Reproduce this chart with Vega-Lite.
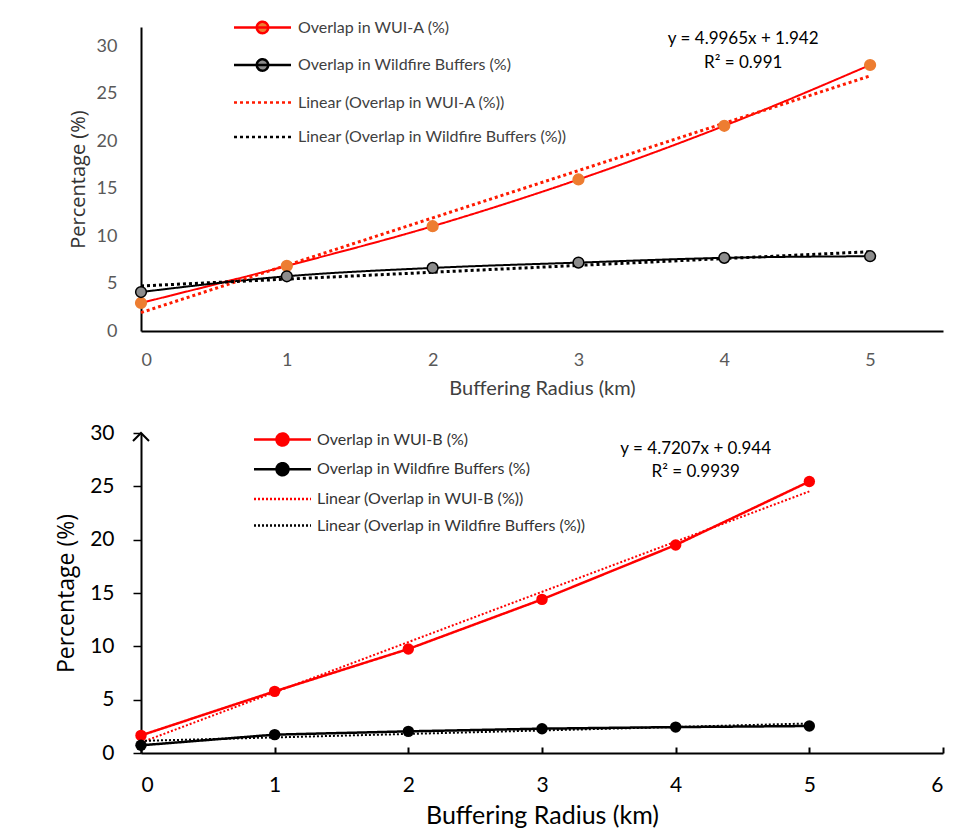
{
  "$schema": "https://vega.github.io/schema/vega-lite/v6.json",
  "background": "white",
  "padding": {"left": 55, "top": 16, "right": 5, "bottom": 5},
  "bounds": "flush",
  "spacing": 102,
  "config": {"view": {"stroke": null}, "font": "Lato"},
  "datasets": {
    "top": [
      {"series": "Overlap in WUI-A (%)", "trend": "Linear (Overlap in WUI-A (%))", "x": 0, "y": 2.95},
      {"series": "Overlap in WUI-A (%)", "trend": "Linear (Overlap in WUI-A (%))", "x": 1, "y": 6.85},
      {"series": "Overlap in WUI-A (%)", "trend": "Linear (Overlap in WUI-A (%))", "x": 2, "y": 11.03},
      {"series": "Overlap in WUI-A (%)", "trend": "Linear (Overlap in WUI-A (%))", "x": 3, "y": 15.95},
      {"series": "Overlap in WUI-A (%)", "trend": "Linear (Overlap in WUI-A (%))", "x": 4, "y": 21.6},
      {"series": "Overlap in WUI-A (%)", "trend": "Linear (Overlap in WUI-A (%))", "x": 5, "y": 28.0},
      {"series": "Overlap in Wildfire Buffers  (%)", "trend": "Linear (Overlap in Wildfire Buffers  (%))", "x": 0, "y": 4.1},
      {"series": "Overlap in Wildfire Buffers  (%)", "trend": "Linear (Overlap in Wildfire Buffers  (%))", "x": 1, "y": 5.76},
      {"series": "Overlap in Wildfire Buffers  (%)", "trend": "Linear (Overlap in Wildfire Buffers  (%))", "x": 2, "y": 6.64},
      {"series": "Overlap in Wildfire Buffers  (%)", "trend": "Linear (Overlap in Wildfire Buffers  (%))", "x": 3, "y": 7.2},
      {"series": "Overlap in Wildfire Buffers  (%)", "trend": "Linear (Overlap in Wildfire Buffers  (%))", "x": 4, "y": 7.7},
      {"series": "Overlap in Wildfire Buffers  (%)", "trend": "Linear (Overlap in Wildfire Buffers  (%))", "x": 5, "y": 7.87}
    ],
    "bottom": [
      {"series": "Overlap in WUI-B (%)", "trend": "Linear (Overlap in WUI-B (%))", "x": 0, "y": 1.65},
      {"series": "Overlap in WUI-B (%)", "trend": "Linear (Overlap in WUI-B (%))", "x": 1, "y": 5.78},
      {"series": "Overlap in WUI-B (%)", "trend": "Linear (Overlap in WUI-B (%))", "x": 2, "y": 9.75},
      {"series": "Overlap in WUI-B (%)", "trend": "Linear (Overlap in WUI-B (%))", "x": 3, "y": 14.4},
      {"series": "Overlap in WUI-B (%)", "trend": "Linear (Overlap in WUI-B (%))", "x": 4, "y": 19.5},
      {"series": "Overlap in WUI-B (%)", "trend": "Linear (Overlap in WUI-B (%))", "x": 5, "y": 25.45},
      {"series": "Overlap in Wildfire Buffers (%)", "trend": "Linear (Overlap in Wildfire Buffers (%))", "x": 0, "y": 0.72},
      {"series": "Overlap in Wildfire Buffers (%)", "trend": "Linear (Overlap in Wildfire Buffers (%))", "x": 1, "y": 1.72},
      {"series": "Overlap in Wildfire Buffers (%)", "trend": "Linear (Overlap in Wildfire Buffers (%))", "x": 2, "y": 2.03},
      {"series": "Overlap in Wildfire Buffers (%)", "trend": "Linear (Overlap in Wildfire Buffers (%))", "x": 3, "y": 2.28},
      {"series": "Overlap in Wildfire Buffers (%)", "trend": "Linear (Overlap in Wildfire Buffers (%))", "x": 4, "y": 2.43},
      {"series": "Overlap in Wildfire Buffers (%)", "trend": "Linear (Overlap in Wildfire Buffers (%))", "x": 5, "y": 2.53}
    ]
  },
  "vconcat": [
    {
      "width": 802,
      "height": 304,
      "data": {"name": "top"},
      "encoding": {
        "x": {"field": "x", "type": "quantitative",
          "scale": {"domain": [0, 5.5], "nice": false, "zero": false},
          "axis": {"values": [0, 1, 2, 3, 4, 5], "ticks": false, "grid": false, "domainColor": "#000000", "domainWidth": 2,
            "labelFont": "Lato", "labelFontSize": 18, "labelColor": "#595959", "labelPadding": 20,
            "title": "Buffering Radius (km)", "titleFont": "Lato", "titleFontSize": 20, "titleFontWeight": "normal", "titleColor": "#404040",
            "titleY": 57, "titleBaseline": "middle"}},
        "y": {"field": "y", "type": "quantitative",
          "scale": {"domain": [0, 32], "nice": false},
          "axis": {"values": [0, 5, 10, 15, 20, 25, 30], "ticks": false, "grid": false, "domainColor": "#000000", "domainWidth": 2,
            "labelFont": "Lato", "labelFontSize": 18, "labelColor": "#595959", "labelPadding": 24,
            "title": "Percentage  (%)", "titleFont": "Open Sans", "titleFontSize": 20, "titleFontWeight": "normal", "titleColor": "#333333",
            "titleX": -63, "titleBaseline": "middle"}}
      },
      "layer": [
        {
          "mark": {"type": "line", "strokeWidth": 2, "interpolate": "monotone"},
          "encoding": {
            "color": {"field": "series", "type": "nominal",
              "scale": {"domain": ["Overlap in WUI-A (%)", "Overlap in Wildfire Buffers  (%)", "Linear (Overlap in WUI-A (%))", "Linear (Overlap in Wildfire Buffers  (%))"], "range": ["#FF0000", "#000000", "#FF1A00", "#000000"]},
              "legend": {"title": null, "orient": "none", "legendX": 110, "legendY": -11, "symbolType": "stroke", "symbolSize": 400, "symbolStrokeWidth": 2.5, "labelFont": "Lato", "labelFontSize": 16, "labelColor": "#404040", "labelOffset": 24, "labelLimit": 500, "rowPadding": 14.5, "padding": 0,
                "encode": {"symbols": {"update": {
                  "shape": {"signal": "datum.index < 2 ? 'M-2.85,0H2.85M0.57,0A0.57,0.57,0,1,1,-0.57,0A0.57,0.57,0,1,1,0.57,0' : 'M-2.85,0H2.85'"},
                  "fill": {"signal": "datum.index == 0 ? '#ED7D31' : datum.index == 1 ? '#8C8C8C' : 'transparent'"},
                  "stroke": {"signal": "datum.index == 0 ? '#FF0000' : datum.index == 2 ? '#ED7D31' : '#000000'"}}}}}},
            "strokeDash": {"field": "series", "type": "nominal",
              "scale": {"domain": ["Overlap in WUI-A (%)", "Overlap in Wildfire Buffers  (%)", "Linear (Overlap in WUI-A (%))", "Linear (Overlap in Wildfire Buffers  (%))"], "range": [[1, 0], [1, 0], [3, 3], [3, 3]]},
              "legend": {"title": null, "orient": "none", "legendX": 110, "legendY": -11, "symbolType": "stroke", "symbolSize": 400, "symbolStrokeWidth": 2.5, "labelFont": "Lato", "labelFontSize": 16, "labelColor": "#404040", "labelOffset": 24, "labelLimit": 500, "rowPadding": 14.5, "padding": 0,
                "encode": {"symbols": {"update": {
                  "shape": {"signal": "datum.index < 2 ? 'M-2.85,0H2.85M0.57,0A0.57,0.57,0,1,1,-0.57,0A0.57,0.57,0,1,1,0.57,0' : 'M-2.85,0H2.85'"},
                  "fill": {"signal": "datum.index == 0 ? '#ED7D31' : datum.index == 1 ? '#8C8C8C' : 'transparent'"},
                  "stroke": {"signal": "datum.index == 0 ? '#FF0000' : datum.index == 2 ? '#ED7D31' : '#000000'"}}}}}}
          }
        },
        {
          "transform": [{"regression": "y", "on": "x", "groupby": ["trend"], "method": "linear", "extent": [0, 5]}],
          "mark": {"type": "line", "strokeWidth": 3},
          "encoding": {
            "color": {"field": "trend", "type": "nominal"},
            "strokeDash": {"field": "trend", "type": "nominal"}
          }
        },
        {
          "mark": {"type": "point", "filled": true, "size": 115, "strokeWidth": 1.5, "opacity": 1},
          "encoding": {
            "fill": {"field": "series", "type": "nominal", "scale": {"domain": ["Overlap in WUI-A (%)", "Overlap in Wildfire Buffers  (%)"], "range": ["#ED7D31", "#8C8C8C"]}, "legend": null},
            "stroke": {"field": "series", "type": "nominal", "scale": {"domain": ["Overlap in WUI-A (%)", "Overlap in Wildfire Buffers  (%)"], "range": ["#ED7D31", "#000000"]}, "legend": null}
          }
        },
        {
          "transform": [{"filter": "datum.x == 0 && datum.series == 'Overlap in WUI-A (%)'"}],
          "mark": {"type": "text", "font": "Lato", "fontSize": 17, "fontWeight": "normal", "fill": "#000000", "align": "center", "baseline": "middle"},
          "encoding": {"x": {"datum": 4.13}, "y": {"datum": 30.7}, "text": {"value": "y = 4.9965x + 1.942"}}
        },
        {
          "transform": [{"filter": "datum.x == 0 && datum.series == 'Overlap in WUI-A (%)'"}],
          "mark": {"type": "text", "font": "Lato", "fontSize": 17, "fontWeight": "normal", "fill": "#000000", "align": "center", "baseline": "middle"},
          "encoding": {"x": {"datum": 4.13}, "y": {"datum": 28.2}, "text": {"value": "R² = 0.991"}}
        }
      ]
    },
    {
      "width": 802,
      "height": 320,
      "data": {"name": "bottom"},
      "encoding": {
        "x": {"field": "x", "type": "quantitative",
          "scale": {"domain": [0, 6], "nice": false, "zero": false},
          "axis": {"values": [0, 1, 2, 3, 4, 5, 6], "ticks": true, "tickSize": -6, "tickColor": "#000000", "tickWidth": 2, "grid": false, "domainColor": "#000000", "domainWidth": 2,
            "labelFont": "Lato", "labelFontSize": 21, "labelColor": "#000000", "labelPadding": 27,
            "title": "Buffering Radius (km)", "titleFont": "Lato", "titleFontSize": 25, "titleFontWeight": "normal", "titleColor": "#000000",
            "titleY": 62, "titleBaseline": "middle"}},
        "y": {"field": "y", "type": "quantitative",
          "scale": {"domain": [0, 30], "nice": false},
          "axis": {"values": [0, 5, 10, 15, 20, 25, 30], "ticks": true, "tickSize": 8, "tickColor": "#000000", "tickWidth": 1.5, "grid": false, "domainColor": "#000000", "domainWidth": 2,
            "labelFont": "Lato", "labelFontSize": 21, "labelColor": "#000000", "labelPadding": 19,
            "title": "Percentage  (%)", "titleFont": "Open Sans", "titleFontSize": 23, "titleFontWeight": "normal", "titleColor": "#000000",
            "titleX": -75, "titleBaseline": "middle"}}
      },
      "layer": [
        {
          "mark": {"type": "line", "strokeWidth": 2.5},
          "encoding": {
            "color": {"field": "series", "type": "nominal",
              "scale": {"domain": ["Overlap in WUI-B (%)", "Overlap in Wildfire Buffers (%)", "Linear (Overlap in WUI-B (%))", "Linear (Overlap in Wildfire Buffers (%))"], "range": ["#FF0000", "#000000", "#FF0000", "#000000"]},
              "legend": {"title": null, "orient": "none", "legendX": 130, "legendY": -5, "symbolType": "stroke", "symbolSize": 400, "symbolStrokeWidth": 2.5, "labelFont": "Lato", "labelFontSize": 16, "labelColor": "#333333", "labelOffset": 23, "labelLimit": 500, "rowPadding": 6.7, "padding": 0,
                "encode": {"symbols": {"update": {
                  "shape": {"signal": "datum.index < 2 ? 'M-2.85,0H2.85M0.6,0A0.6,0.6,0,1,1,-0.6,0A0.6,0.6,0,1,1,0.6,0' : 'M-2.85,0H2.85'"},
                  "fill": {"signal": "datum.index == 0 ? '#FF0000' : datum.index == 1 ? '#000000' : 'transparent'"},
                  "stroke": {"signal": "datum.index == 0 || datum.index == 2 ? '#FF0000' : '#000000'"}}}}}},
            "strokeDash": {"field": "series", "type": "nominal",
              "scale": {"domain": ["Overlap in WUI-B (%)", "Overlap in Wildfire Buffers (%)", "Linear (Overlap in WUI-B (%))", "Linear (Overlap in Wildfire Buffers (%))"], "range": [[1, 0], [1, 0], [2, 2], [2, 2]]},
              "legend": {"title": null, "orient": "none", "legendX": 130, "legendY": -5, "symbolType": "stroke", "symbolSize": 400, "symbolStrokeWidth": 2.5, "labelFont": "Lato", "labelFontSize": 16, "labelColor": "#333333", "labelOffset": 23, "labelLimit": 500, "rowPadding": 6.7, "padding": 0,
                "encode": {"symbols": {"update": {
                  "shape": {"signal": "datum.index < 2 ? 'M-2.85,0H2.85M0.6,0A0.6,0.6,0,1,1,-0.6,0A0.6,0.6,0,1,1,0.6,0' : 'M-2.85,0H2.85'"},
                  "fill": {"signal": "datum.index == 0 ? '#FF0000' : datum.index == 1 ? '#000000' : 'transparent'"},
                  "stroke": {"signal": "datum.index == 0 || datum.index == 2 ? '#FF0000' : '#000000'"}}}}}}
          }
        },
        {
          "transform": [{"regression": "y", "on": "x", "groupby": ["trend"], "method": "linear", "extent": [0, 5]}],
          "mark": {"type": "line", "strokeWidth": 2},
          "encoding": {
            "color": {"field": "trend", "type": "nominal"},
            "strokeDash": {"field": "trend", "type": "nominal"}
          }
        },
        {
          "mark": {"type": "point", "filled": true, "size": 130, "opacity": 1},
          "encoding": {
            "fill": {"field": "series", "type": "nominal", "scale": {"domain": ["Overlap in WUI-B (%)", "Overlap in Wildfire Buffers (%)"], "range": ["#FF0000", "#000000"]}, "legend": null}
          }
        },
        {
          "transform": [{"filter": "datum.x == 0 && datum.series == 'Overlap in WUI-B (%)'"}],
          "mark": {"type": "point", "shape": "M-1,1L0,0L1,1", "filled": false, "size": 256, "stroke": "#000000", "strokeWidth": 2, "opacity": 1},
          "encoding": {"x": {"datum": 0}, "y": {"datum": 30}}
        },
        {
          "transform": [{"filter": "datum.x == 0 && datum.series == 'Overlap in WUI-B (%)'"}],
          "mark": {"type": "text", "font": "Lato", "fontSize": 17, "fontWeight": "normal", "fill": "#000000", "align": "center", "baseline": "middle"},
          "encoding": {"x": {"datum": 4.15}, "y": {"datum": 28.5}, "text": {"value": "y = 4.7207x + 0.944"}}
        },
        {
          "transform": [{"filter": "datum.x == 0 && datum.series == 'Overlap in WUI-B (%)'"}],
          "mark": {"type": "text", "font": "Lato", "fontSize": 17, "fontWeight": "normal", "fill": "#000000", "align": "center", "baseline": "middle"},
          "encoding": {"x": {"datum": 4.15}, "y": {"datum": 26.3}, "text": {"value": "R² = 0.9939"}}
        }
      ]
    }
  ],
  "resolve": {"scale": {"color": "independent", "strokeDash": "independent", "fill": "independent", "stroke": "independent", "x": "independent", "y": "independent"}, "legend": {"color": "independent", "strokeDash": "independent"}}
}
